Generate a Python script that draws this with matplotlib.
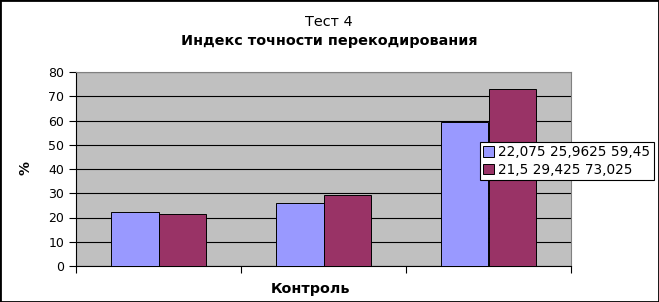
import numpy as np
import matplotlib.pyplot as plt
from matplotlib.patches import Rectangle

groups = ["1", "2", "3"]
series_a = [22.075, 25.9625, 59.45]
series_b = [21.5, 29.425, 73.025]
label_a = "22,075 25,9625 59,45"
label_b = "21,5 29,425 73,025"
y_ticks = [0, 10, 20, 30, 40, 50, 60, 70, 80]

plt.rcParams['font.family'] = ['DejaVu Sans']

fig = plt.figure(figsize=(6.59, 3.02), dpi=100)
ax = fig.add_axes([76 / 659, 36 / 302, 495 / 659, 194 / 302])
ax.set_facecolor("#C0C0C0")

x = np.arange(len(groups))
w = 0.285
ax.bar(x - w / 2, series_a, w, color="#9999FF", edgecolor="black", linewidth=0.7, label=label_a, zorder=3)
ax.bar(x + w / 2, series_b, w, color="#993366", edgecolor="black", linewidth=0.7, label=label_b, zorder=3)

ax.set_xlim(-0.5, 2.5)
ax.set_ylim(0, 80)
ax.set_yticks(y_ticks)
ax.yaxis.grid(True, color="black", linewidth=0.8, zorder=0)
ax.set_axisbelow(True)
ax.set_xticks([-0.5, 0.5, 1.5, 2.5])
ax.set_xticklabels([])
ax.tick_params(axis="y", labelsize=9, length=5, direction="out", width=0.8)
ax.tick_params(axis="x", length=5, direction="out", width=0.8)
for s in ["top", "right"]:
    ax.spines[s].set_color("#808080")
for s in ["left", "bottom"]:
    ax.spines[s].set_color("black")

fig.text(329 / 659, 1 - 22 / 302, "Тест 4", ha="center", va="center", fontsize=10.4)
fig.text(329 / 659, 1 - 41 / 302, "Индекс точности перекодирования", ha="center", va="center",
         fontsize=10.4, fontweight="bold")
fig.text(25 / 659, 1 - 168 / 302, "%", ha="center", va="center", rotation=90, fontsize=10, fontweight="bold")
fig.text(310 / 659, 1 - 289 / 302, "Контроль", ha="center", va="center", fontsize=10.3, fontweight="bold")

leg = fig.legend(loc="center left", bbox_to_anchor=(480 / 659, 1 - 161 / 302), fontsize=9.8,
                 frameon=True, fancybox=False, edgecolor="black", framealpha=1,
                 handlelength=0.8, handleheight=0.8, handletextpad=0.3, borderpad=0.25,
                 labelspacing=0.25, borderaxespad=0)
leg.get_frame().set_linewidth(0.8)

fig.patches.append(Rectangle((0, 0), 1, 1, transform=fig.transFigure, fill=False,
                             edgecolor="black", linewidth=2))

fig.savefig("out.png", dpi=100)
